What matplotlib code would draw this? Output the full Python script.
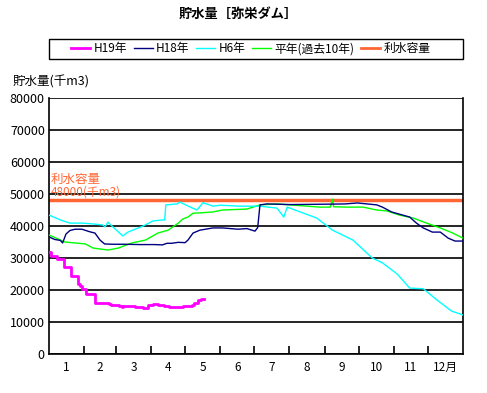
import matplotlib
matplotlib.use("Agg")
import matplotlib.pyplot as plt
from matplotlib.lines import Line2D
from matplotlib.patches import Rectangle

plt.rcParams['font.family'] = ['Noto Sans CJK JP', 'DejaVu Sans']

# storage volume (thousand m3) by day of year
h19_days = [0, 2, 7, 13, 19, 26, 27, 29, 33, 41, 53, 55, 62, 64, 65, 72, 76, 83, 87, 92,
            96, 101, 106, 115, 118, 123, 126, 128, 131, 134, 137]
h19_vals = [31800, 30600, 29800, 27300, 24500, 22000, 21300, 20300, 18900, 15800, 15700,
            15200, 15100, 14700, 15100, 15000, 14700, 14500, 15200, 15700, 15400, 15100,
            14700, 14600, 14900, 14900, 15200, 16000, 16800, 17200, 17300]

h18_days = [0, 5, 10, 12, 15, 18.5, 23, 29, 36, 40.5, 45, 49, 55.5, 67, 80, 93, 100, 104,
            108, 114, 120, 122.5, 127, 133, 144.6, 153, 166.6, 174.5, 181.6, 184, 186, 192,
            212.5, 239, 261, 272, 289, 294, 302, 309, 318, 324, 330, 338, 345, 352, 358, 365]
h18_vals = [36600, 35800, 35500, 34700, 37500, 38600, 39000, 39000, 38200, 37800, 35600,
            34400, 34300, 34300, 34200, 34200, 34100, 34600, 34600, 34900, 34800, 35600,
            37800, 38700, 39400, 39400, 39000, 39200, 38400, 39500, 46600, 46900, 46700,
            46800, 46900, 47200, 46600, 45900, 44400, 43700, 42800, 40900, 39400, 38100,
            38100, 36200, 35300, 35300]

h6_days = [0, 10, 18.5, 30, 40.5, 47.6, 49.4, 52, 56.4, 65, 69.6, 83, 91.7, 100.5, 102,
           103, 113, 115.5, 124, 130.5, 135.8, 144.6, 151, 168, 186, 201, 207, 210, 236,
           250, 268, 285, 294, 307, 318, 330, 342, 355, 365]
h6_vals = [43400, 41900, 40900, 40900, 40600, 40300, 39700, 41200, 39700, 36900, 38100,
           40000, 41600, 41900, 41900, 46600, 46900, 47500, 46000, 45000, 47300, 46200,
           46500, 46200, 46200, 45600, 42800, 45900, 42500, 38700, 35600, 30000, 28500,
           25000, 20600, 20400, 16900, 13400, 12200]

avg_days = [0, 14, 32, 39, 52, 61, 73, 85, 96, 105, 114, 118, 122.5, 127, 133, 144.6, 153,
            174.5, 186, 201, 212.5, 239, 248, 250, 251, 263, 277, 289, 298, 309, 321, 333,
            345, 356, 365]
avg_vals = [37200, 35000, 34400, 33100, 32500, 33100, 34700, 35600, 37800, 38700, 40900,
            42200, 42800, 44000, 44100, 44400, 45000, 45300, 46600, 46900, 46600, 45900,
            45900, 48400, 46000, 45900, 45900, 45000, 44700, 43400, 42500, 40900, 39400,
            37800, 36200]

capacity = 48000
month_edges = [0, 31, 59, 90, 120, 151, 181, 212, 243, 273, 304, 334, 365]
month_labels = ["1", "2", "3", "4", "5", "6", "7", "8", "9", "10", "11", "12月"]

fig = plt.figure(figsize=(4.87, 3.93), dpi=100)
ax = fig.add_axes([0.1006, 0.0992, 0.8501, 0.6514])

ax.axhline(capacity, color='#ff6633', linewidth=2.5, zorder=2)
ax.plot(avg_days, avg_vals, color='#00ff00', linewidth=1, zorder=3)
ax.plot(h6_days, h6_vals, color='#00ffff', linewidth=1, zorder=3)
ax.plot(h18_days, h18_vals, color='#000080', linewidth=1, zorder=4)
ax.plot(h19_days, h19_vals, color='#ff00ff', linewidth=2, drawstyle='steps-post', zorder=5)

ax.text(1.5, 53300, "利水容量", color='#ff6633', fontsize=9, va='baseline')
ax.text(1.5, 49500, "48000(千m3)", color='#ff6633', fontsize=8.5, va='baseline')

ax.set_xlim(0, 365)
ax.set_ylim(0, 80000)
ax.set_yticks(range(0, 80001, 10000))
ax.yaxis.grid(True, color='black', linewidth=1.2)
ax.set_axisbelow(True)
ax.tick_params(axis='y', length=0, labelsize=9, pad=3)

centers = [(month_edges[i] + month_edges[i + 1]) / 2 for i in range(12)]
ax.set_xticks(centers)
ax.set_xticklabels(month_labels, fontsize=8.5)
ax.tick_params(axis='x', which='major', length=0, pad=5)
ax.set_xticks(month_edges[1:-1], minor=True)
ax.tick_params(axis='x', which='minor', direction='in', length=6, width=1.2)

for s in ['left', 'bottom', 'right']:
    ax.spines[s].set_linewidth(1.2)
ax.spines['top'].set_visible(False)

fig.text(0.025, 0.775, "貯水量(千m3)", fontsize=9, va='bottom')
fig.text(0.49, 0.955, "貯水量［弥栄ダム］", fontsize=9.5, fontweight='bold', ha='center')

fig.patches.append(Rectangle((0.1006, 0.8499), 0.8501, 0.0509, transform=fig.transFigure,
                             fill=False, edgecolor='black', linewidth=1))
handles = [Line2D([], [], color='#ff00ff', linewidth=2),
           Line2D([], [], color='#000080', linewidth=1),
           Line2D([], [], color='#00ffff', linewidth=1),
           Line2D([], [], color='#00ff00', linewidth=1),
           Line2D([], [], color='#ff6633', linewidth=2)]
fig.legend(handles, ["H19年", "H18年", "H6年", "平年(過去10年)", "利水容量"],
           loc='center', bbox_to_anchor=(0.515, 0.8754), ncol=5, frameon=False,
           fontsize=8.5, handlelength=1.6, handletextpad=0.3, columnspacing=0.55,
           borderpad=0)

fig.savefig("out.png", dpi=100)
